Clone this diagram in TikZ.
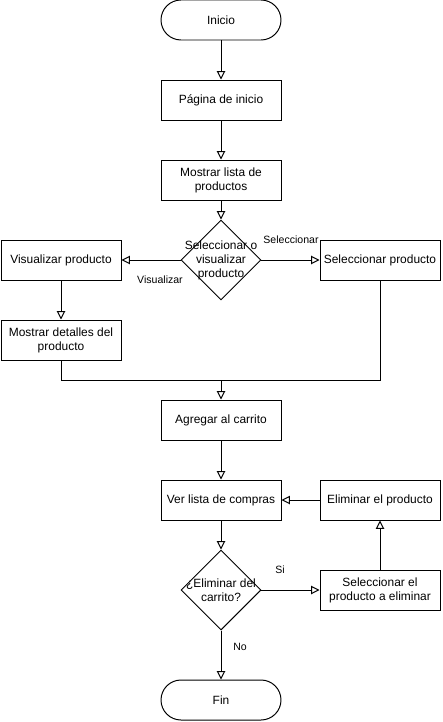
\documentclass[tikz,border=0pt]{standalone}
\usepackage{fontspec}
\setmainfont{Liberation Sans}
\usetikzlibrary{shapes.geometric, arrows.meta}

\begin{document}
\begin{tikzpicture}[line width=0.7pt,
    font=\fontsize{8.5}{10}\selectfont,
    box/.style={draw, minimum width=3cm, minimum height=1cm, align=center, inner sep=1pt},
    terminal/.style={draw, rounded corners=0.5cm, minimum width=3cm, minimum height=1cm},
    decision/.style={draw, diamond, minimum width=2cm, minimum height=2cm, inner sep=0pt},
    flow/.style={-{Triangle[open, width=6pt, length=6pt]}},
    edgelabel/.style={font=\fontsize{7.5}{9}\selectfont}]
                % Frame
                \useasboundingbox (0,0) rectangle (11.05,-18.05);

                % Main column
                \node[terminal] (inicio) at (5.525,-0.5) {Inicio};
                \node[box] (pagina) at (5.525,-2.5) {Página de inicio};
                \node[box] (lista) at (5.525,-4.5) {Mostrar lista de\\productos};
                \node[decision, label={[align=center]center:Seleccionar o\\visualizar\\producto}] (elegir) at (5.525,-6.5) {};
                \node[box] (agregar) at (5.525,-10.5) {Agregar al carrito};
                \node[box] (compras) at (5.525,-12.5) {Ver lista de compras};
                \node[decision, label={[align=center]center:¿Eliminar del\\carrito?}] (eliminar) at (5.525,-14.75) {};
                \node[terminal] (fin) at (5.525,-17.5) {Fin};

                % Side branches
                \node[box] (visualizar) at (1.525,-6.5) {Visualizar producto};
                \node[box] (detalles) at (1.525,-8.5) {Mostrar detalles del\\producto};
                \node[box] (seleccionar) at (9.5,-6.5) {Seleccionar producto};
                \node[box] (quitar) at (9.5,-12.5) {Eliminar el producto};
                \node[box] (marcar) at (9.5,-14.75) {Seleccionar el\\producto a eliminar};
                \coordinate (union) at (5.525,-9.5);

                % Connectors
                \draw[flow] (inicio) -- (pagina);
                \draw[flow] (pagina) -- (lista);
                \draw[flow] (lista) -- (elegir);
                \draw[flow] (elegir.west) -- (visualizar.east);
                \draw[flow] (elegir.east) -- (seleccionar.west);
                \draw[flow] (visualizar) -- (detalles);
                \draw (detalles.south) |- (union);
                \draw (seleccionar.south) |- (union);
                \draw[flow] (union) -- (agregar);
                \draw[flow] (agregar) -- (compras);
                \draw[flow] (compras) -- (eliminar);
                \draw[flow] (eliminar.east) -- (marcar.west);
                \draw[flow] (marcar) -- (quitar);
                \draw[flow] (quitar) -- (compras);
                \draw[flow] (eliminar.south) -- (fin);

                % Edge labels
                \node[edgelabel] (lvis) at (4.0,-7.0) {Visualizar};
                \node[edgelabel] (lsel) at (7.275,-6.0) {Seleccionar};
                \node[edgelabel] (lsi) at (7.0,-14.25) {Si};
                \node[edgelabel] (lno) at (6.0,-16.175) {No};
            \end{tikzpicture}
\end{document}
